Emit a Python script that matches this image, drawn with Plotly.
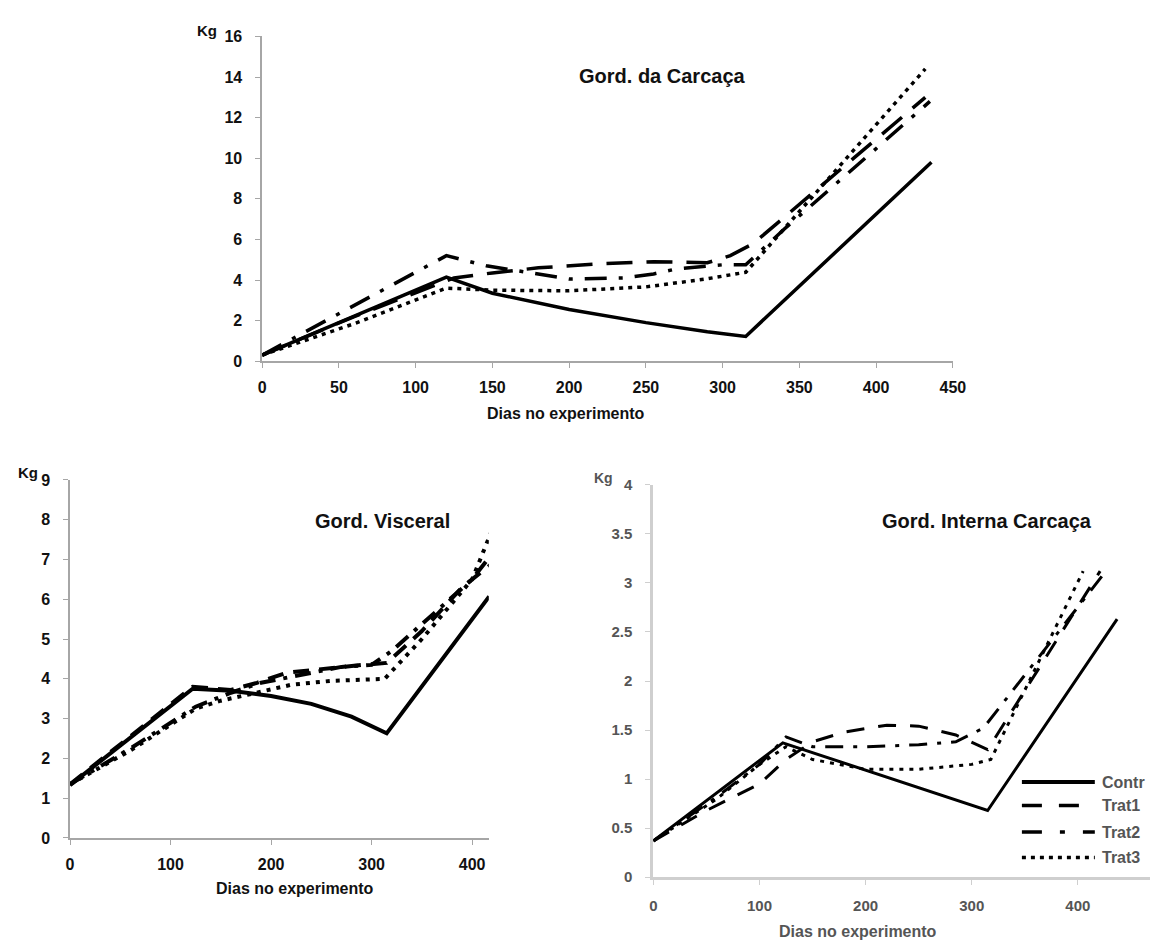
import plotly.graph_objects as go

W, H = 1163, 949

# ---------------- Data ----------------
# Gord. da Carcaça (top chart)
carc_contr_x = [0, 120, 150, 200, 250, 290, 315, 436]
carc_contr_y = [0.3, 4.14, 3.35, 2.55, 1.9, 1.45, 1.22, 9.8]
carc_trat1_x = [0, 60, 125, 150, 180, 220, 255, 290, 305, 320, 432]
carc_trat1_y = [0.3, 2.2, 4.1, 4.35, 4.6, 4.8, 4.9, 4.85, 5.2, 5.8, 13.0]
carc_trat2_x = [0, 120, 146, 170, 200, 235, 255, 270, 300, 315, 340, 435]
carc_trat2_y = [0.3, 5.2, 4.7, 4.4, 4.05, 4.1, 4.3, 4.55, 4.75, 4.75, 6.5, 12.8]
carc_trat3_x = [0, 60, 120, 150, 200, 250, 290, 315, 432]
carc_trat3_y = [0.3, 1.85, 3.6, 3.5, 3.47, 3.66, 4.06, 4.38, 14.4]

# Gord. Visceral (bottom left)
visc_contr_x = [0, 122, 160, 200, 240, 280, 315, 417]
visc_contr_y = [1.33, 3.75, 3.7, 3.57, 3.37, 3.05, 2.63, 6.07]
visc_trat1_x = [0, 60, 122, 160, 186, 215, 250, 290, 315, 350, 390, 420]
visc_trat1_y = [1.35, 2.55, 3.8, 3.72, 3.9, 4.15, 4.25, 4.35, 4.4, 5.2, 6.3, 6.9]
visc_trat2_x = [0, 60, 125, 160, 190, 230, 270, 300, 320, 360, 400, 420]
visc_trat2_y = [1.35, 2.25, 3.3, 3.65, 3.9, 4.1, 4.3, 4.35, 4.7, 5.6, 6.5, 7.15]
visc_trat3_x = [0, 60, 125, 150, 180, 220, 260, 313, 350, 400, 420]
visc_trat3_y = [1.35, 2.2, 3.25, 3.45, 3.62, 3.85, 3.95, 4.0, 5.0, 6.5, 7.75]

# Gord. Interna Carcaça (bottom right)
int_contr_x = [0, 122, 315, 437]
int_contr_y = [0.37, 1.37, 0.68, 2.63]
int_trat1_x = [0, 50, 100, 125, 150, 180, 220, 250, 285, 315, 421]
int_trat1_y = [0.37, 0.68, 0.95, 1.2, 1.38, 1.48, 1.55, 1.54, 1.45, 1.3, 3.12]
int_trat2_x = [0, 60, 100, 125, 150, 200, 250, 285, 311, 425]
int_trat2_y = [0.37, 0.82, 1.15, 1.43, 1.33, 1.33, 1.35, 1.38, 1.52, 3.1]
int_trat3_x = [0, 60, 100, 125, 150, 200, 250, 300, 318, 405]
int_trat3_y = [0.37, 0.8, 1.15, 1.33, 1.2, 1.1, 1.1, 1.15, 1.2, 3.12]

series_names = ["Contr", "Trat1", "Trat2", "Trat3"]
top_yticks = [0, 2, 4, 6, 8, 10, 12, 14, 16]
top_xticks = [0, 50, 100, 150, 200, 250, 300, 350, 400, 450]
left_yticks = [0, 1, 2, 3, 4, 5, 6, 7, 8, 9]
left_xticks = [0, 100, 200, 300, 400]
right_yticks = [0, 0.5, 1, 1.5, 2, 2.5, 3, 3.5, 4]
right_yticklabels = ["0", "0.5", "1", "1.5", "2", "2.5", "3", "3.5", "4"]
right_xticks = [0, 100, 200, 300, 400]

# ---------------- helpers ----------------
def px(x):
    return x / W

def py(y):
    return 1 - y / H

FONT = "Liberation Sans, Arial, sans-serif"

fig = go.Figure()

top_dash = ["solid", "26px,14px", "22px,12px,4px,12px", "4px,5px"]
left_dash = ["solid", "16px,10px", "16px,8px,4px,8px", "4px,6px"]
right_dash = ["solid", "18px,14px", "18px,10px,4px,10px", "4px,6px"]

top_data = [(carc_contr_x, carc_contr_y), (carc_trat1_x, carc_trat1_y),
            (carc_trat2_x, carc_trat2_y), (carc_trat3_x, carc_trat3_y)]
left_data = [(visc_contr_x, visc_contr_y), (visc_trat1_x, visc_trat1_y),
             (visc_trat2_x, visc_trat2_y), (visc_trat3_x, visc_trat3_y)]
right_data = [(int_contr_x, int_contr_y), (int_trat1_x, int_trat1_y),
              (int_trat2_x, int_trat2_y), (int_trat3_x, int_trat3_y)]

for (xs, ys), d, n in zip(top_data, top_dash, series_names):
    fig.add_trace(go.Scatter(x=xs, y=ys, mode="lines", name=n, showlegend=False,
                             line=dict(color="black", width=3.5, dash=d),
                             xaxis="x", yaxis="y"))
for (xs, ys), d, n in zip(left_data, left_dash, series_names):
    fig.add_trace(go.Scatter(x=xs, y=ys, mode="lines", name=n, showlegend=False,
                             line=dict(color="black", width=4, dash=d),
                             xaxis="x2", yaxis="y2"))
for (xs, ys), d, n in zip(right_data, right_dash, series_names):
    fig.add_trace(go.Scatter(x=xs, y=ys, mode="lines", name=n, showlegend=False,
                             line=dict(color="black", width=3, dash=d),
                             xaxis="x3", yaxis="y3"))

def axis(domain, rng, ticks, anchor, linecolor="#a6a6a6", lw=1.5, tickfont=None,
         ticktext=None, standoff=6):
    a = dict(domain=domain, range=rng, tickvals=ticks, anchor=anchor,
             showgrid=False, zeroline=False, showline=True, linecolor=linecolor,
             linewidth=lw, ticks="outside", ticklen=5, tickcolor=linecolor,
             tickwidth=1, tickfont=tickfont, ticklabelstandoff=standoff,
             fixedrange=True)
    if ticktext is not None:
        a["ticktext"] = ticktext
    return a

tf_black = dict(family=FONT, size=16, color="#111111", weight="bold")
tf_gray = dict(family=FONT, size=15, color="#555555", weight="bold")

fig.update_layout(
    width=W, height=H,
    margin=dict(l=0, r=0, t=0, b=0),
    paper_bgcolor="white", plot_bgcolor="white",
    showlegend=False,
    xaxis=axis([px(262), px(963)], [0, 450], top_xticks, "y", tickfont=tf_black, standoff=6),
    yaxis=axis([py(359), py(28)], [0, 16], top_yticks, "x", tickfont=tf_black, standoff=10),
    xaxis2=axis([px(67), px(492)], [0, 416.6], left_xticks, "y2", tickfont=tf_black, standoff=6),
    yaxis2=axis([py(845), py(480)], [0, 9], left_yticks, "x2", tickfont=tf_black, standoff=10),
    xaxis3=axis([px(659), 1.0], [0, 468], right_xticks, "y3", linecolor="#cfcfcf", lw=3,
                tickfont=tf_gray, standoff=8),
    yaxis3=axis([py(885), py(485)], [0, 4], right_yticks, "x3", linecolor="#cfcfcf", lw=3,
                tickfont=tf_gray, ticktext=right_yticklabels, standoff=10),
)

ann = []
def text(x, y, s, size, color="#111111", xanchor="center"):
    ann.append(dict(x=px(x), y=py(y), xref="paper", yref="paper", text="<b>" + s + "</b>",
                    showarrow=False, xanchor=xanchor, yanchor="middle",
                    font=dict(family=FONT, size=size, color=color)))

# chart titles
text(668, 68, "Gord. da Carcaça", 20)
text(384, 522, "Gord. Visceral", 20)
text(998, 522, "Gord. Interna Carcaça", 20)
# axis titles
text(570, 412, "Dias no experimento", 16)
text(295, 897, "Dias no experimento", 16)
text(867, 940, "Dias no experimento", 16, color="#555555")
# Kg labels
text(206, 22, "Kg", 15)
text(24, 472, "Kg", 15)
text(608, 478, "Kg", 14, color="#555555")

# legend (bottom-right chart)
leg_y = [788, 812, 839, 865]
leg_dash = ["solid", "20px,17px", "20px,18px,5px,18px", "4px,5px"]
shapes = []
for yy, d, n in zip(leg_y, leg_dash, series_names):
    shapes.append(dict(type="line", xref="paper", yref="paper",
                       x0=px(1033), x1=px(1107), y0=py(yy), y1=py(yy),
                       line=dict(color="black", width=4 if d == "solid" else 3.5, dash=d)))
    text(1112, yy, n, 16, color="#555555", xanchor="left")

fig.update_layout(annotations=ann, shapes=shapes)

fig.write_html("out.html")
